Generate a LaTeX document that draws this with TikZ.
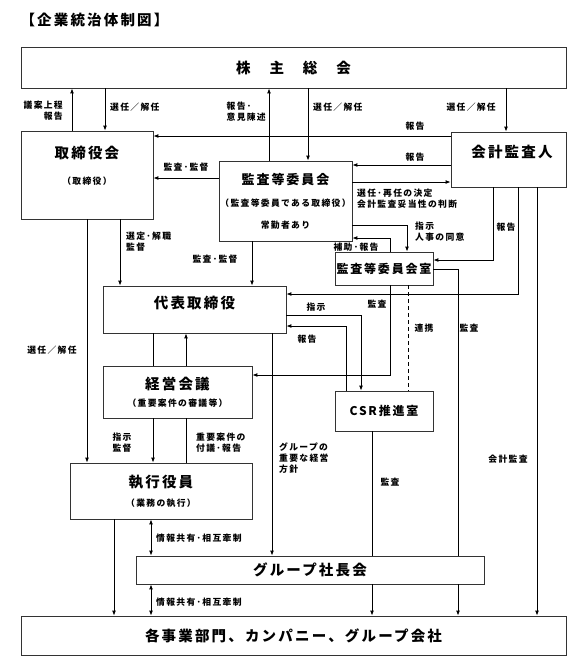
\documentclass[tikz,border=0pt]{standalone}
\usepackage{fontspec}
\setmainfont{Noto Sans CJK JP}
\newfontfamily\jpwide[LetterSpace=15]{Noto Sans CJK JP}
\usetikzlibrary{arrows.meta,positioning,calc}

\begin{document}
\begin{tikzpicture}[x=1pt,y=-1pt,
    box/.style={draw=black!80,line width=0.8pt,fill=white,inner sep=0pt},
    ttl/.style={font=\jpwide\fontsize{14.5}{16}\selectfont\bfseries},
    mid/.style={font=\jpwide\fontsize{12}{14}\selectfont\bfseries},
    lbl/.style={font=\jpwide\fontsize{8.8}{11}\selectfont\bfseries,inner sep=1pt},
    ln/.style={line width=0.9pt},
    arr/.style={line width=0.9pt,-{Latex[length=5pt,width=4pt]}},
    dbl/.style={line width=0.9pt,{Latex[length=5pt,width=4pt]}-{Latex[length=5pt,width=4pt]}}]
  \useasboundingbox (0,0) rectangle (584,667);

  \node[ttl,anchor=west] (title) at (17,20) {【企業統治体制図】};

  % boxes
  \node[box,ttl,minimum width=545pt,minimum height=41pt] (share) at (293.5,67.5) {株　主　総　会};
  \node[box,minimum width=132pt,minimum height=88pt] (board) at (87,175) {};
  \node[box,minimum width=133pt,minimum height=80pt] (audcom) at (285.5,201) {};
  \node[box,minimum width=115pt,minimum height=55pt] (auditor) at (508.5,159.5) {};
  \node[box,mid,minimum width=98pt,minimum height=33pt] (audoff) at (384,268.5) {監査等委員会室};
  \node[box,minimum width=183pt,minimum height=47pt] (rep) at (194.5,309.5) {};
  \node[box,minimum width=149pt,minimum height=52pt] (mgmt) at (177.5,392) {};
  \node[box,mid,minimum width=98pt,minimum height=40pt] (csr) at (384,411) {CSR推進室};
  \node[box,minimum width=182pt,minimum height=56pt] (exec) at (161,491) {};
  \node[box,ttl,minimum width=348pt,minimum height=28pt] (group) at (310,570) {グループ社長会};
  \node[box,ttl,minimum width=545pt,minimum height=39pt] (biz) at (293.5,635.5) {各事業部門、カンパニー、グループ会社};

  % texts in boxes
  \node[ttl] (boardt) at (87,153) {取締役会};
  \node[lbl] (boards) at (87,181) {（取締役）};
  \node[ttl,font=\jpwide\fontsize{13}{15}\selectfont\bfseries] (audcomt) at (285.5,180) {監査等委員会};
  \node[lbl] (audcoms) at (285.5,203) {（監査等委員である取締役）};
  \node[lbl] (audcomf) at (285.5,225) {常勤者あり};
  \node[ttl] (auditort) at (512,152) {会計監査人};
  \node[ttl] (rept) at (194.5,303) {代表取締役};
  \node[ttl] (mgmtt) at (177.5,384) {経営会議};
  \node[lbl] (mgmts) at (177.5,403) {（重要案件の審議等）};
  \node[ttl] (exect) at (161,482) {執行役員};
  \node[lbl] (execs) at (161,503) {（業務の執行）};

  % 株主総会
  \draw[arr] (72,0 |- board.north) -- (72,0 |- share.south);
  \draw[arr] (105,0 |- share.south) -- (105,0 |- board.north);
  \node[lbl,anchor=east,align=right] (l1) at (64,111) {議案上程\\報告};
  \node[lbl,anchor=west] (l2) at (109,107) {選任／解任};
  \draw[arr] (269,0 |- audcom.north) -- (269,0 |- share.south);
  \draw[arr] (308,0 |- share.south) -- (308,0 |- audcom.north);
  \node[lbl,anchor=east,align=left] (l3) at (267,112) {報告･\\意見陳述};
  \node[lbl,anchor=west] (l4) at (312,107) {選任／解任};
  \draw[arr] (506,0 |- share.south) -- (506,0 |- auditor.north);
  \node[lbl,anchor=east] (l5) at (497,107) {選任／解任};

  % 会計監査人 / 監査等委員会
  \draw[arr] (auditor.west |- 0,136) -- (board.east |- 0,136);
  \node[lbl] (l6) at (415,126) {報告};
  \draw[arr] (auditor.west |- 0,165) -- (audcom.east |- 0,165);
  \node[lbl] (l7) at (415,157) {報告};
  \draw[arr] (audcom.east |- 0,182) -- (auditor.west |- 0,182);
  \node[lbl,anchor=west,align=left] (l8) at (356,199) {選任･再任の決定\\会計監査妥当性の判断};
  \draw[arr] (audcom.west |- 0,178) -- (board.east |- 0,178);
  \node[lbl] (l9) at (186,167) {監査･監督};

  % 取締役会
  \draw[arr] (120,0 |- board.south) -- (120,0 |- rep.north);
  \node[lbl,anchor=west,align=left] (l10) at (125,242) {選定･解職\\監督};
  \draw[arr] (87,0 |- board.south) -- (87,0 |- exec.north);
  \node[lbl] (l11) at (52,350) {選任／解任};
  \draw[arr] (252,0 |- audcom.south) -- (252,0 |- rep.north);
  \node[lbl] (l12) at (215,259) {監査･監督};

  % 監査等委員会室
  \draw[arr] (audcom.east |- 0,225) -| (407,0 |- audoff.north);
  \node[lbl,anchor=west,align=left] (l13) at (414,232) {指示\\人事の同意};
  \draw[arr] (390,0 |- audoff.north) |- (audcom.east |- 0,238);
  \node[lbl] (l14) at (356,247) {補助･報告};
  \draw[arr] (493,0 |- auditor.south) |- (audoff.east |- 0,260);
  \node[lbl] (l15) at (506,227) {報告};
  \draw[arr] (518,0 |- auditor.south) |- (rep.east |- 0,294);
  \draw[arr] (537,0 |- auditor.south) -- (537,0 |- biz.north);
  \node[lbl] (l16) at (508,459) {会計監査};
  \draw[ln] (audoff.east |- 0,269) -| (458,0 |- group.north);
  \draw[arr] (458,0 |- group.south) -- (458,0 |- biz.north);
  \node[lbl] (l17) at (469,328) {監査};
  \draw[arr] (390,0 |- audoff.south) |- (mgmt.east |- 0,375);
  \node[lbl] (l18) at (377,304) {監査};
  \draw[ln,dash pattern=on 4pt off 3pt] (408,0 |- audoff.south) -- (408,0 |- csr.north);
  \node[lbl] (l19) at (424,328) {連携};

  % 代表取締役
  \draw[arr] (rep.east |- 0,315) -| (361,0 |- csr.north);
  \node[lbl] (l20) at (316,307) {指示};
  \draw[arr] (346,0 |- csr.north) |- (rep.east |- 0,326);
  \node[lbl] (l21) at (307,339) {報告};
  \draw[ln] (153,0 |- rep.south) -- (153,0 |- mgmt.north);
  \draw[arr] (186,0 |- mgmt.north) -- (186,0 |- rep.south);
  \draw[arr] (153,0 |- mgmt.south) -- (153,0 |- exec.north);
  \node[lbl,align=center] (l22) at (122,443) {指示\\監督};
  \draw[ln] (186,0 |- exec.north) -- (186,0 |- mgmt.south);
  \node[lbl,anchor=west,align=left] (l23) at (195,443) {重要案件の\\付議･報告};
  \draw[arr] (272,0 |- rep.south) -- (272,0 |- group.north);
  \node[lbl,anchor=west,align=left] (l24) at (278,458) {グループの\\重要な経営\\方針};

  % CSR推進室 / 執行役員
  \draw[ln] (372,0 |- csr.south) -- (372,0 |- group.north);
  \node[lbl] (l25) at (390,482) {監査};
  \draw[arr] (372,0 |- group.south) -- (372,0 |- biz.north);
  \draw[arr] (114,0 |- exec.south) -- (114,0 |- biz.north);
  \draw[dbl] (151,0 |- exec.south) -- (151,0 |- group.north);
  \node[lbl,anchor=west] (l26) at (155,538) {情報共有･相互牽制};
  \draw[dbl] (151,0 |- group.south) -- (151,0 |- biz.north);
  \node[lbl,anchor=west] (l27) at (155,602) {情報共有･相互牽制};
\end{tikzpicture}
\end{document}
